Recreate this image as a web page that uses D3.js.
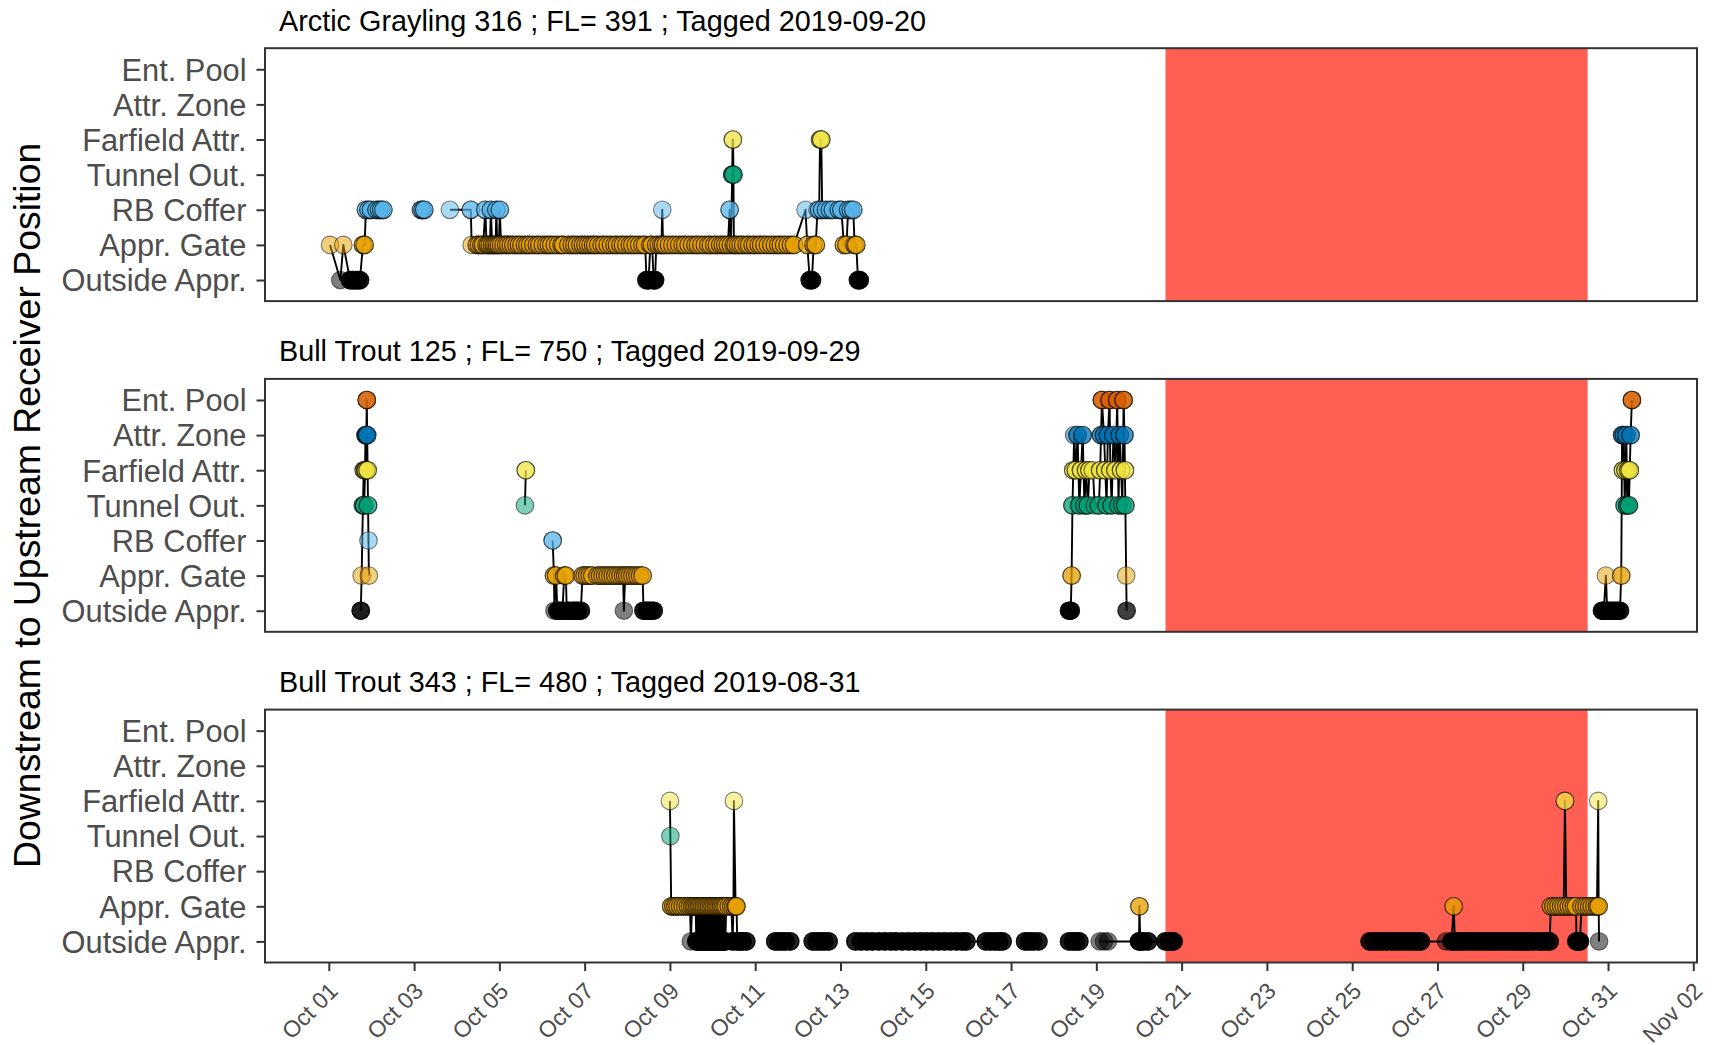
<!DOCTYPE html>
<html><head><meta charset="utf-8">
<script src="https://cdn.jsdelivr.net/npm/d3@7"></script>
<style>body{margin:0;background:#fff}svg{display:block;font-family:"Liberation Sans",Arial,sans-serif}</style>
</head><body><svg id="c" width="1717" height="1045"></svg>
<script>
// ---------- data ----------
const positions = ["Outside Appr.","Appr. Gate","RB Coffer","Tunnel Out.","Farfield Attr.","Attr. Zone","Ent. Pool"];
const posColors = ["#000000","#E69F00","#56B4E9","#009E73","#F0E442","#0072B2","#D55E00"];
// usual number of repeated detections per record, by position (3rd element overrides)
const defaultCount = [3,2,2,2,2,2,3];
const fishTitles = ["Arctic Grayling 316 ; FL= 391 ; Tagged 2019-09-20",
                    "Bull Trout 125 ; FL= 750 ; Tagged 2019-09-29",
                    "Bull Trout 343 ; FL= 480 ; Tagged 2019-08-31"];
const shadeStart = "2019-10-20T14:55:00Z";
const shadeEnd   = "2019-10-30T12:30:00Z";
const xTickDates = ["2019-10-01","2019-10-03","2019-10-05","2019-10-07","2019-10-09","2019-10-11","2019-10-13","2019-10-15","2019-10-17","2019-10-19","2019-10-21","2019-10-23","2019-10-25","2019-10-27","2019-10-29","2019-10-31","2019-11-02"];

// detections: [day of October (decimal), position index, (detections)]
const ag316 = [
[1.03,1,1],[1.27,0,1],[1.34,1,1],[1.50,0],[1.56,0],[1.62,0],[1.68,0],[1.73,0],[1.80,1],[1.84,1],[1.87,2],[1.93,2],[1.99,2],[2.12,2],[2.18,2],[2.23,2],[2.28,2],
[3.16,2],[3.20,2],[3.24,2],
[3.84,2,1],[4.33,2],[4.35,1,1],[4.47,1],[4.52,1],[4.58,1],[4.62,1],[4.67,2],[4.70,1],[4.74,1],[4.78,1],[4.80,2],[4.83,1],[4.87,1],[4.91,1],[4.93,2],[4.95,1],[4.99,1],[5.01,2],[5.04,1],[5.10,1],[5.16,1],[5.21,1],[5.27,1],[5.33,1],[5.40,1],[5.46,1],[5.52,1],[5.60,1],[5.66,1],[5.72,1],[5.80,1],[5.88,1],[5.94,1],[6.02,1],[6.10,1],[6.16,1],[6.22,1],[6.30,1],[6.38,1],[6.46,1],[6.50,1],[6.62,1],[6.70,1],[6.76,1],[6.82,1],[6.90,1],[6.96,1],[7.02,1],[7.08,1],[7.14,1],[7.20,1],[7.25,1],[7.32,1],[7.40,1],[7.46,1],[7.54,1],[7.62,1],[7.70,1],[7.76,1],[7.84,1],[7.90,1],[7.98,1],[8.06,1],[8.12,1],[8.20,1],[8.28,1],[8.36,1],[8.42,1],[8.45,0],[8.50,0],[8.54,1],[8.58,1],[8.62,0],[8.65,0],[8.68,1],[8.74,1],[8.80,1],[8.82,2,1],[8.84,1],[8.90,1],[8.98,1],[9.06,1],[9.14,1],[9.22,1],[9.30,1],[9.36,1],[9.44,1],[9.52,1],[9.60,1],[9.66,1],[9.74,1],[9.82,1],[9.90,1],[9.96,1],[10.04,1],[10.10,1],[10.18,1],[10.24,1],[10.30,1],[10.36,1],[10.40,2],[10.43,1],[10.46,3],[10.47,4,1],[10.48,4,1],[10.49,3],[10.50,1],[10.54,1],[10.60,1],[10.66,1],[10.72,1],[10.80,1],[10.86,1],[10.94,1],[11.00,1],[11.08,1],[11.14,1],[11.22,1],[11.30,1],[11.38,1],[11.46,1],[11.54,1],[11.60,1],[11.68,1],[11.76,1],[11.84,1],[11.91,1],
[12.18,2,1],[12.22,1],[12.28,0],[12.33,0],[12.37,1],[12.42,1],[12.46,2,1],[12.50,2],[12.52,4],[12.55,4],[12.57,2],[12.66,2],[12.75,2],[12.82,2],[12.96,2],[13.02,2],[13.08,1],[13.14,1],[13.18,2],[13.24,2],[13.30,2],[13.33,1],[13.37,1],[13.41,0],[13.45,0]
];
const ag316Breaks = [3.16, 3.84];

const bt125 = [
[1.75,0],[1.77,1,1],[1.80,3],[1.82,4],[1.83,3],[1.85,4],[1.86,5],[1.87,4],[1.88,5],[1.89,6],[1.90,5],[1.91,4],[1.92,3],[1.93,2,1],[1.94,1,1],
[5.60,3,1],[5.62,4],
[6.25,2],[6.28,1],[6.29,0,1],[6.33,1],[6.36,0],[6.42,0],[6.48,0],[6.52,1],[6.56,1],[6.58,0],[6.64,0],[6.72,0],[6.78,0],[6.84,0],[6.91,0],[6.95,1],[7.00,1],[7.06,1],[7.12,1],[7.18,1],[7.30,1],[7.36,1],[7.42,1],[7.48,1],[7.54,1],[7.60,1],[7.66,1],[7.72,1],[7.78,1],[7.84,1],[7.90,1],[7.92,0,1],[7.95,1],[8.00,1],[8.06,1],[8.12,1],[8.18,1],[8.24,1],[8.30,1],[8.36,1],[8.38,0],[8.44,0],[8.50,0],[8.56,0],[8.62,0],
[18.36,0],[18.40,0],[18.42,1],[18.44,3],[18.46,4],[18.48,5,1],[18.52,4],[18.56,5],[18.60,3],[18.64,4],[18.68,5],[18.72,3],[18.76,4],[18.80,3],[18.84,4],[18.92,4,1],[18.96,3,1],[19.06,3],[19.09,4],[19.11,5],[19.13,6],[19.18,5],[19.21,4],[19.24,3],[19.27,5],[19.31,6],[19.33,4],[19.36,3],[19.40,5],[19.45,4],[19.49,6],[19.52,3],[19.55,5],[19.58,4],[19.61,3],[19.64,6],[19.66,5],[19.67,4],[19.68,3],[19.70,1,1],[19.71,0,2],
[30.86,0],[30.90,0],[30.95,1,1],[30.98,0],[31.04,0],[31.10,0],[31.16,0],[31.22,0],[31.28,0],[31.31,1],[31.33,5],[31.35,4],[31.37,5],[31.39,3],[31.41,4],[31.43,5],[31.45,3],[31.47,4],[31.49,3],[31.51,4],[31.53,5],[31.56,6]
];
const bt125Breaks = [5.60, 6.25, 18.36, 30.86];

const bt343 = [
[9.00,4,1],[9.01,3,1],[9.03,1],[9.08,1],[9.13,1],[9.18,1],[9.24,1],[9.30,1],[9.36,1],[9.42,1],[9.47,1],[9.49,0,1],[9.52,1],[9.56,1],[9.60,1],[9.62,0],[9.64,1],[9.66,0],[9.68,1],[9.70,0],[9.72,1],[9.74,0],[9.76,1],[9.78,0],[9.80,1],[9.82,0],[9.84,1],[9.86,0],[9.88,1],[9.90,0],[9.92,1],[9.94,0],[9.96,1],[9.98,0],[10.00,1],[10.02,0],[10.04,1],[10.06,0],[10.08,1],[10.10,0],[10.12,1],[10.14,0],[10.16,1],[10.18,0],[10.20,1],[10.22,0],[10.24,1],[10.26,0],[10.28,1],[10.30,0],[10.32,1],[10.38,1],[10.44,1],[10.47,0],[10.49,1],[10.50,4,1],[10.54,1],[10.56,1],[10.58,0],[10.64,0],[10.70,0],[10.79,0],
[11.47,0],[11.55,0],[11.63,0],[11.71,0],[11.82,0],
[12.35,0],[12.44,0],[12.53,0],[12.62,0],[12.72,0],
[13.35,0],[13.48,0],[13.62,0],[13.75,0],[13.90,0],[14.04,0],[14.18,0],[14.30,0],[14.45,0],[14.60,0],[14.74,0],[14.88,0],[15.02,0],[15.16,0],[15.30,0],[15.44,0],[15.58,0],[15.72,0],[15.85,0],[15.95,0],[16.41,0],[16.52,0],[16.63,0],[16.72,0],[16.80,0],
[17.33,0],[17.42,0],[17.52,0],[17.64,0],
[18.36,0],[18.45,0],[18.52,0],[18.60,0],
[19.08,0,1],[19.18,0,1],[19.27,0,1],[20.00,0],[20.01,1],[20.03,0],[20.10,0],[20.21,0],[20.62,0],[20.70,0],[20.76,0],[20.81,0],
[25.41,0],[25.50,0],[25.60,0],[25.70,0],[25.80,0],[25.92,0],[26.02,0],[26.12,0],[26.22,0],[26.32,0],[26.42,0],[26.52,0],[26.61,0],[27.20,0,1],[27.33,0],[27.38,1],[27.41,0],[27.50,0],[27.60,0],[27.70,0],[27.80,0],[27.90,0],[28.00,0],[28.10,0],[28.20,0],[28.30,0],[28.40,0],[28.50,0],[28.60,0],[28.70,0],[28.80,0],[28.90,0],[28.96,0],[29.05,0],[29.15,0],[29.25,0],[29.37,0],[29.45,0],[29.54,0],[29.63,0],[29.66,1],[29.72,1],[29.78,1],[29.84,1],[29.90,1],[29.96,1],[29.99,4],[30.02,1],[30.08,1],[30.14,1],[30.20,1],[30.25,1],[30.26,0],[30.30,0],[30.34,0],[30.38,1],[30.44,1],[30.50,1],[30.56,1],[30.62,1],[30.68,1],[30.74,1],[30.77,4,1],[30.78,1],[30.79,0,1]
];
const bt343Breaks = [11.47, 12.35, 13.35, 17.33, 18.36, 19.08, 25.41];

// ---------- layout ----------
const fishData = [ag316, bt125, bt343];
const fishBreaks = [ag316Breaks, bt125Breaks, bt343Breaks];
const plotL = 265, plotR = 1697, panelH = 252.9;
const panelTops = [48.2, 378.9, 709.6];
const svg = d3.select("#c");
const toDate = d => new Date(Date.UTC(2019, 9, 1) + (d - 1) * 864e5);

const allDays = fishData.flat().map(p => p[0]);
const [dmin, dmax] = d3.extent(allDays);
const pad = (dmax - dmin) * 0.05;
const x = d3.scaleUtc().domain([toDate(dmin - pad), toDate(dmax + pad)]).range([plotL, plotR]);

const axisGrey = "#4D4D4D", tickGrey = "#333333";

fishData.forEach((data, i) => {
  const top = panelTops[i], bottom = top + panelH;
  const y = d3.scalePoint().domain(positions).range([bottom, top]).padding(0.6);
  const g = svg.append("g");

  // shaded period
  g.append("rect")
    .attr("x", x(new Date(shadeStart))).attr("y", top)
    .attr("width", x(new Date(shadeEnd)) - x(new Date(shadeStart)))
    .attr("height", panelH).attr("fill", "#FF5E53");

  // split into bouts
  const breaks = new Set(fishBreaks[i]);
  const bouts = [];
  data.forEach(p => {
    if (bouts.length === 0 || breaks.has(p[0])) bouts.push([]);
    bouts[bouts.length - 1].push(p);
  });
  const line = d3.line().x(d => x(toDate(d[0]))).y(d => y(positions[d[1]]));
  g.selectAll("path.trk").data(bouts).join("path").attr("class", "trk")
    .attr("d", line).attr("fill", "none").attr("stroke", "#000").attr("stroke-width", 1.9)
    .attr("stroke-linejoin", "round");

  const detections = data.flatMap(d => d3.range(d[2] ?? defaultCount[d[1]]).map(() => d));
  g.selectAll("circle").data(detections).join("circle")
    .attr("cx", d => x(toDate(d[0]))).attr("cy", d => y(positions[d[1]]))
    .attr("r", 8.8)
    .attr("fill", d => posColors[d[1]]).attr("fill-opacity", 0.5)
    .attr("stroke", "#000").attr("stroke-opacity", 0.5).attr("stroke-width", 1.1);

  // border
  g.append("rect").attr("x", plotL).attr("y", top).attr("width", plotR - plotL).attr("height", panelH)
    .attr("fill", "none").attr("stroke", "#333333").attr("stroke-width", 2);

  // y axis
  const ya = g.append("g").attr("transform", `translate(${plotL},0)`)
    .call(d3.axisLeft(y).tickSize(8.5).tickPadding(10));
  ya.select(".domain").remove();
  ya.selectAll(".tick line").attr("stroke", tickGrey).attr("stroke-width", 2);
  ya.selectAll(".tick text").attr("fill", axisGrey).attr("font-size", "30.8px")
    .attr("font-family", "'Liberation Sans',Arial,sans-serif").attr("dy", "0.35em");

  // title
  g.append("text").attr("x", 279).attr("y", top - 17.5).attr("font-size", "28.8px")
    .attr("fill", "#000").text(fishTitles[i]);

  if (i === fishData.length - 1) {
    const fs = 23;
    const xa = g.append("g").attr("transform", `translate(0,${bottom})`)
      .call(d3.axisBottom(x).tickValues(xTickDates.map(s => new Date(s + "T00:00:00Z")))
        .tickFormat(d3.utcFormat("%b %d")).tickSize(8.5));
    xa.select(".domain").remove();
    xa.selectAll(".tick line").attr("stroke", tickGrey).attr("stroke-width", 2);
    xa.selectAll(".tick text").attr("fill", axisGrey).attr("font-size", fs + "px")
      .attr("font-family", "'Liberation Sans',Arial,sans-serif")
      .attr("x", 0).attr("y", 0).attr("dy", null)
      .attr("text-anchor", "end")
      .attr("transform", `translate(10,30) rotate(-45)`);
  }
});

// y axis title
svg.append("text")
  .attr("transform", `translate(40,${(panelTops[0] + panelTops[2] + panelH) / 2}) rotate(-90)`)
  .attr("text-anchor", "middle").attr("font-size", "37.4px").attr("fill", "#000")
  .text("Downstream to Upstream Receiver Position");
</script></body></html>
